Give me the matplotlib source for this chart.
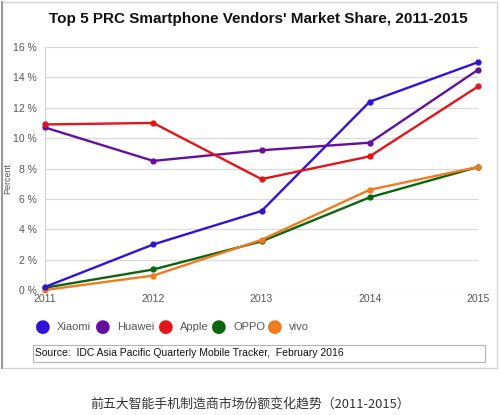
import matplotlib.pyplot as plt
from matplotlib.patches import Rectangle

# data
years = [2011, 2012, 2013, 2014, 2015]
xiaomi = [0.2, 3.0, 5.2, 12.4, 15.0]
huawei = [10.7, 8.5, 9.2, 9.7, 14.5]
apple = [10.9, 11.0, 7.3, 8.8, 13.4]
oppo = [0.15, 1.35, 3.2, 6.1, 8.1]
vivo = [0.0, 0.95, 3.3, 6.6, 8.1]
vendors = ['Xiaomi', 'Huawei', 'Apple', 'OPPO', 'vivo']
colors = ['#2f12dc', '#650f9e', '#e3141a', '#0b650f', '#f07a1e']
yticks = [0, 2, 4, 6, 8, 10, 12, 14, 16]

W, H = 500, 415
fig = plt.figure(figsize=(W / 100, H / 100), dpi=100)
plt.rcParams['font.family'] = ['Liberation Sans', 'DejaVu Sans']

# outer frame of the chart picture
fig.patches.append(Rectangle((2 / W, 1 - 368 / H), 495 / W, 366 / H,
                             transform=fig.transFigure, fill=False,
                             edgecolor='#d4d4d4', lw=1))
fig.lines.append(plt.Line2D([2 / W, 2 / W], [1 - 368 / H, 1 - 2 / H],
                            transform=fig.transFigure, color='#9a9a9a', lw=1.5))

ax = fig.add_axes([45 / W, 1 - 290 / H, 433 / W, 243 / H])
series = [xiaomi, huawei, apple, oppo, vivo]
# draw so the top-layer order resembles the original
for i in [3, 4, 0, 1, 2]:
    ax.plot(years, series[i], color=colors[i], lw=1.7, marker='o', ms=3.5,
            clip_on=False, zorder=3)

ax.set_xlim(2011, 2015)
ax.set_ylim(0, 16)
ax.set_yticks(yticks)
ax.set_yticklabels([f'{t} %' for t in yticks])
ax.set_xticks(years)
ax.grid(axis='y', color='#d8d8d8', lw=0.8)
ax.set_axisbelow(True)
for s in ['top', 'right', 'bottom']:
    ax.spines[s].set_visible(False)
ax.spines['left'].set_color('#cfcfcf')
ax.tick_params(length=0, labelsize=7.5, colors='#555555')
ax.tick_params(axis='y', pad=6)
ax.tick_params(axis='x', pad=3)

fig.text(8 / W, 1 - 178 / H, 'Percent', rotation=90, fontsize=6.5,
         color='#555555', ha='center', va='center')

fig.text(258 / W, 1 - 19 / H,
         "Top 5 PRC Smartphone Vendors' Market Share, 2011-2015",
         fontsize=11, fontweight='bold', ha='center', va='center',
         color='#111111')

# legend
leg_x = [43, 103, 166, 219, 275]
for x, name, c in zip(leg_x, vendors, colors):
    fig.text(x / W, 1 - 327 / H, '\u25CF', color=c, fontsize=13,
             ha='center', va='center', family='DejaVu Sans')
    fig.text((x + 14) / W, 1 - 327 / H, name, fontsize=8, color='#555555',
             ha='left', va='center')

# source box
fig.patches.append(Rectangle((33 / W, 1 - 362 / H), 452 / W, 17 / H,
                             transform=fig.transFigure, fill=False,
                             edgecolor='#b5b5b5', lw=0.8))
fig.text(35 / W, 1 - 353 / H,
         'Source:  IDC Asia Pacific Quarterly Mobile Tracker,  February 2016',
         fontsize=7.5, color='#111111', ha='left', va='center')

fig.text(250 / W, 1 - 404 / H,
         '前五大智能手机制造商市场份额变化趋势（2011-2015）',
         fontsize=9.3, color='#333333', ha='center', va='center',
         family=['Noto Sans CJK SC', 'DejaVu Sans'])

fig.savefig('out.png', dpi=100)
